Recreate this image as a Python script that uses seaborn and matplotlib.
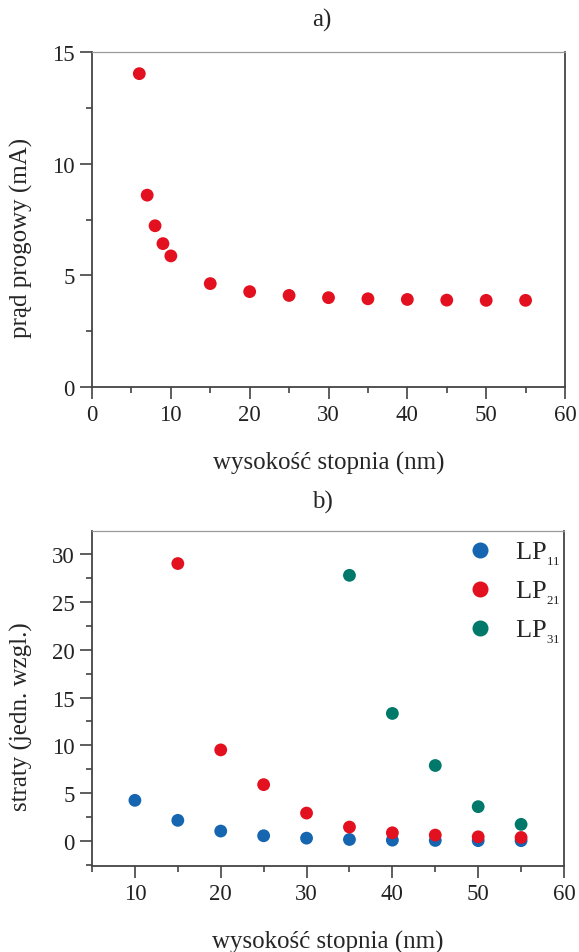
import pandas as pd
import matplotlib
matplotlib.use("Agg")
import matplotlib.pyplot as plt
from matplotlib.ticker import MultipleLocator
import seaborn as sns

# a) prąd progowy vs wysokość stopnia
h_a = [6, 7, 8, 9, 10, 15, 20, 25, 30, 35, 40, 45, 50, 55]
prad = [14.03, 8.59, 7.22, 6.42, 5.87, 4.63, 4.27, 4.10, 4.00, 3.95, 3.92, 3.89, 3.88, 3.88]

# b) straty modów
h_lp11 = [10, 15, 20, 25, 30, 35, 40, 45, 50, 55]
lp11 = [4.26, 2.17, 1.05, 0.56, 0.31, 0.17, 0.10, 0.07, 0.05, 0.05]
h_lp21 = [15, 20, 25, 30, 35, 40, 45, 50, 55]
lp21 = [29.0, 9.53, 5.9, 2.93, 1.47, 0.87, 0.63, 0.45, 0.38]
h_lp31 = [35, 40, 45, 50, 55]
lp31 = [27.77, 13.34, 7.9, 3.6, 1.75]

# małe, nisko osadzone indeksy jak w oryginale
mody = ["LP$_{_{11}}$", "LP$_{_{21}}$", "LP$_{_{31}}$"]
kolory = ["#1565b0", "#e3101f", "#00796b"]

sns.set_style("ticks")
plt.rcParams["font.family"] = ["Liberation Serif", "DejaVu Serif"]
plt.rcParams["mathtext.fontset"] = "custom"
plt.rcParams["mathtext.rm"] = "Liberation Serif"
plt.rcParams["mathtext.it"] = "Liberation Serif:italic"

df_a = pd.DataFrame({"h": h_a, "I": prad})
df_b = pd.concat([
    pd.DataFrame({"h": h_lp11, "straty": lp11, "mod": mody[0]}),
    pd.DataFrame({"h": h_lp21, "straty": lp21, "mod": mody[1]}),
    pd.DataFrame({"h": h_lp31, "straty": lp31, "mod": mody[2]}),
], ignore_index=True)

W, H = 579, 953
fig = plt.figure(figsize=(W / 100, H / 100), dpi=100)
ax1 = fig.add_axes([92 / W, 1 - 388 / H, 473 / W, 335 / H])
ax2 = fig.add_axes([92 / W, 1 - 867 / H, 472 / W, 335 / H])

sns.scatterplot(data=df_a, x="h", y="I", ax=ax1, color=kolory[1], s=85,
                edgecolor="none", legend=False)
sns.scatterplot(data=df_b, x="h", y="straty", hue="mod", palette=kolory, ax=ax2,
                s=85, edgecolor="none")

ax1.set_xlim(0, 60)
ax1.set_ylim(0, 15)
ax1.xaxis.set_major_locator(MultipleLocator(10))
ax1.xaxis.set_minor_locator(MultipleLocator(5))
ax1.yaxis.set_major_locator(MultipleLocator(5))
ax1.yaxis.set_minor_locator(MultipleLocator(2.5))

ax2.set_xlim(5, 60)
ax2.set_ylim(-2.6, 32.4)
ax2.set_xticks([10, 20, 30, 40, 50, 60])
ax2.xaxis.set_minor_locator(MultipleLocator(5))
ax2.yaxis.set_major_locator(MultipleLocator(5))
ax2.yaxis.set_minor_locator(MultipleLocator(2.5))

for ax, ylab in [(ax1, "prąd progowy (mA)"), (ax2, "straty (jedn. wzgl.)")]:
    ax.set_xlabel("wysokość stopnia (nm)", fontsize=18)
    ax.set_ylabel(ylab, fontsize=18)
    ax.xaxis.set_label_coords(0.5, -0.19)
    ax.yaxis.set_label_coords(-0.125, 0.448)
    ax.tick_params(which="major", direction="out", length=8.5, width=1.1,
                   labelsize=16.5, pad=4, color="#333333", labelcolor="#222222")
    ax.tick_params(which="minor", direction="out", length=4.3, width=1.1,
                   color="#333333")
    for side in ["left", "bottom", "right"]:
        ax.spines[side].set_linewidth(1.3)
        ax.spines[side].set_color("#444444")
    ax.spines["top"].set_linewidth(0.9)
    ax.spines["top"].set_color("#999999")

leg = ax2.legend(loc="upper right", bbox_to_anchor=(1.015, 1.005), frameon=False,
                 fontsize=19, title=None, markerscale=1.25, handlelength=1.6,
                 handletextpad=0.55, labelspacing=0.45, borderaxespad=0.0)

fig.text(322 / W, 1 - 20 / H, "a)", ha="center", va="center", fontsize=18)
fig.text(322 / W, 1 - 502 / H, "b)", ha="center", va="center", fontsize=18)

fig.savefig("out.png", dpi=100)
